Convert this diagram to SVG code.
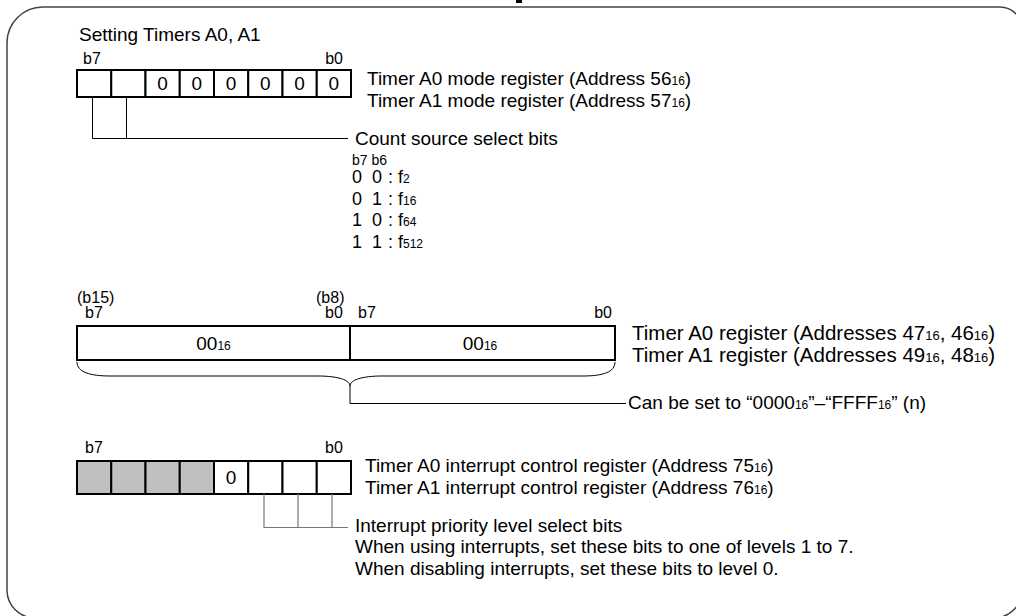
<svg xmlns="http://www.w3.org/2000/svg" width="1016" height="616" viewBox="0 0 1016 616">
<style>
text{font-family:"Liberation Sans",Arial,sans-serif;fill:#000}
.t{font-size:19px}
.tw{font-size:20.5px}
.l{font-size:16px}
.s{font-size:14px}
.r{font-size:18px}
.sub{font-size:12px}
.sub2{font-size:13px}
.cell{fill:#fff;stroke:#000;stroke-width:2}
.gray{fill:#c0c0c0;stroke:#000;stroke-width:2}
.ln{fill:none;stroke:#000;stroke-width:1}
.lg{fill:none;stroke:#777;stroke-width:1.2}
</style>
<rect width="1016" height="616" fill="#fff"/>
<path d="M7,590 V43 A36,36 0 0 1 43,7 H1000 A22,22 0 0 1 1022,29 V590 A28,28 0 0 1 994,618 H35 A28,28 0 0 1 7,590 Z" fill="none" stroke="#444" stroke-width="1.5"/>
<rect x="516" y="0" width="6" height="3" fill="#000"/>
<text class="t" x="79" y="41">Setting Timers A0, A1</text>

<g id="mode-register">
<text class="l" x="83" y="64">b7</text>
<text class="l" x="343" y="64" text-anchor="end">b0</text>
<rect class="cell" x="77" y="70" width="34.25" height="27"/>
<rect class="cell" x="111.25" y="70" width="34.25" height="27"/>
<rect class="cell" x="145.5" y="70" width="34.25" height="27"/>
<rect class="cell" x="179.75" y="70" width="34.25" height="27"/>
<rect class="cell" x="214" y="70" width="34.25" height="27"/>
<rect class="cell" x="248.25" y="70" width="34.25" height="27"/>
<rect class="cell" x="282.5" y="70" width="34.25" height="27"/>
<rect class="cell" x="316.75" y="70" width="34.25" height="27"/>
<g text-anchor="middle">
<text class="t" x="162.6" y="90">0</text>
<text class="t" x="196.9" y="90">0</text>
<text class="t" x="231.1" y="90">0</text>
<text class="t" x="265.4" y="90">0</text>
<text class="t" x="299.6" y="90">0</text>
<text class="t" x="333.9" y="90">0</text>
</g>
<text class="t" x="367" y="84.5">Timer A0 mode register (Address 56<tspan class="sub">16</tspan>)</text>
<text class="t" x="367" y="107">Timer A1 mode register (Address 57<tspan class="sub">16</tspan>)</text>
</g>

<g id="count-source">
<text class="t" x="355" y="145">Count source select bits</text>
<text class="s" x="352" y="165">b7 b6</text>
<text class="r" y="183"><tspan x="352">0</tspan><tspan x="372">0</tspan><tspan x="388">:</tspan><tspan x="398">f</tspan><tspan class="sub">2</tspan></text>
<text class="r" y="204.5"><tspan x="352">0</tspan><tspan x="372">1</tspan><tspan x="388">:</tspan><tspan x="398">f</tspan><tspan class="sub">16</tspan></text>
<text class="r" y="226"><tspan x="352">1</tspan><tspan x="372">0</tspan><tspan x="388">:</tspan><tspan x="398">f</tspan><tspan class="sub">64</tspan></text>
<text class="r" y="247.5"><tspan x="352">1</tspan><tspan x="372">1</tspan><tspan x="388">:</tspan><tspan x="398">f</tspan><tspan class="sub">512</tspan></text>
</g>

<g id="timer-register">
<text class="l" x="77" y="303">(b15)</text>
<text class="l" x="85" y="318">b7</text>
<text class="l" x="316" y="303">(b8)</text>
<text class="l" x="325" y="318">b0</text>
<text class="l" x="358" y="318">b7</text>
<text class="l" x="612" y="318" text-anchor="end">b0</text>
<rect class="cell" x="77" y="326" width="538" height="34"/>
<line x1="350" y1="326" x2="350" y2="360" stroke="#000" stroke-width="2"/>
<text class="t" x="213.5" y="350" text-anchor="middle">00<tspan class="sub">16</tspan></text>
<text class="t" x="480" y="350" text-anchor="middle">00<tspan class="sub">16</tspan></text>
<text class="tw" x="632" y="340">Timer A0 register (Addresses 47<tspan class="sub2">16</tspan>, 46<tspan class="sub2">16</tspan>)</text>
<text class="tw" x="632" y="362">Timer A1 register (Addresses 49<tspan class="sub2">16</tspan>, 48<tspan class="sub2">16</tspan>)</text>
<text class="t" x="628" y="409">Can be set to “0000<tspan class="sub">16</tspan>”–“FFFF<tspan class="sub">16</tspan>” (n)</text>
</g>

<g id="interrupt-register">
<text class="l" x="85" y="453">b7</text>
<text class="l" x="325" y="453">b0</text>
<rect class="gray" x="77" y="461" width="34.25" height="33"/>
<rect class="gray" x="111.25" y="461" width="34.25" height="33"/>
<rect class="gray" x="145.5" y="461" width="34.25" height="33"/>
<rect class="gray" x="179.75" y="461" width="34.25" height="33"/>
<rect class="cell" x="214" y="461" width="34.25" height="33"/>
<rect class="cell" x="248.25" y="461" width="34.25" height="33"/>
<rect class="cell" x="282.5" y="461" width="34.25" height="33"/>
<rect class="cell" x="316.75" y="461" width="34.25" height="33"/>
<text class="t" x="231.1" y="484" text-anchor="middle">0</text>
<text class="t" x="365" y="472">Timer A0 interrupt control register (Address 75<tspan class="sub">16</tspan>)</text>
<text class="t" x="365" y="494">Timer A1 interrupt control register (Address 76<tspan class="sub">16</tspan>)</text>
<text class="t" x="355" y="532">Interrupt priority level select bits</text>
<text class="t" x="355" y="553">When using interrupts, set these bits to one of levels 1 to 7.</text>
<text class="t" x="355" y="575">When disabling interrupts, set these bits to level 0.</text>
</g>

<g id="connectors">
<path class="ln" d="M92.5,97 V138.5 H348 M126.5,97 V138.5"/>
<path class="ln" d="M77,362 C77,372 90,376 110,376 H318 C338,376 350,380 350,386 C350,380 362,376 382,376 H583 C603,376 615,372 615,362"/>
<path class="ln" d="M350,386 V403.5 H626"/>
<path class="lg" d="M264,494 V527.5 H348 M298,494 V527.5 M332,494 V527.5"/>
</g>
</svg>
